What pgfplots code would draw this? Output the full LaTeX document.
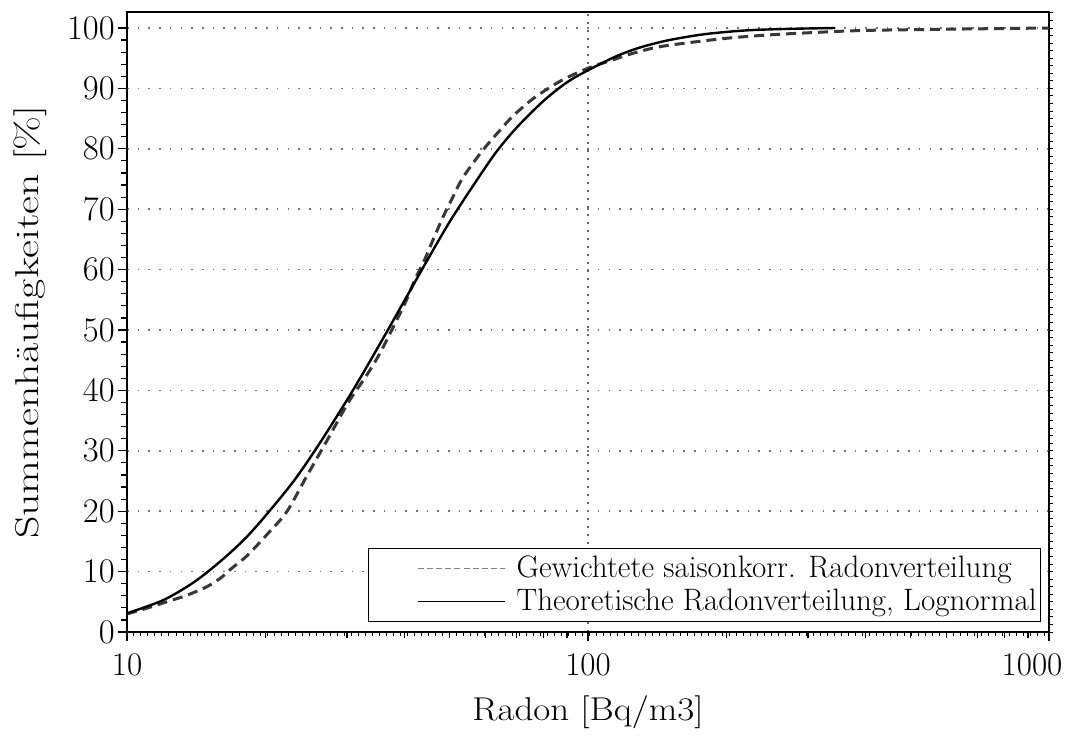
\documentclass[border=0pt]{standalone}
\usepackage{graphicx}
\usepackage{pgfplots}
\pgfplotsset{compat=1.18}
\usepackage{pgfplotstable}

\pgfplotstableread{
x y
10 3.0
11 3.9
12.2 5.0
13.5 6.1
14.9 7.5
16 9.0
16.9 10.6
18.2 12.6
20.1 16.1
22.2 19.9
24.5 25.7
27.2 31.8
30.2 38.0
33.1 42.5
35.4 46.2
38.5 51.7
40.4 55.0
42.1 58.3
44.2 61.6
46.1 64.9
48.4 68.6
50.9 72.0
53.6 75.3
58.9 79.6
64.3 83.0
68.7 85.4
76 88.3
85.7 90.9
93 92.3
102 93.6
113 94.7
125 95.8
143 96.9
175 97.8
206 98.4
252 98.9
318 99.3
400 99.6
600 99.8
1000 100
}\empirical

\pgfplotstableread{
x y
10 3.1
12 5.3
14 8.3
16 11.8
18 15.4
20 19.3
23 25.0
26 30.9
30 38.4
33 43.7
36.8 50
40 54.9
45 61.8
50 67.8
56 73.6
63 79.3
70 83.5
80 87.9
90 91.0
100 93.0
115 95.3
130 96.8
150 98.0
180 99.0
220 99.6
270 99.85
344 100
}\lognormal

\begin{document}
\begin{tikzpicture}
\begin{axis}[
  scale only axis,
  width=461pt, height=310pt,
  xmode=log,
  xmin=10, xmax=1000,
  ymin=0, ymax=102.65,
  xtick={10,100,1000},
  xticklabels={10,100,{\kern-17pt 1000}},
  minor xtick={20,30,40,50,60,70,80,90,200,300,400,500,600,700,800,900},
  ytick={0,10,...,100},
  minor y tick num=4,
  xtick pos=bottom, ytick pos=left,
  tick align=outside,
  major tick length=4.5pt,
  minor tick length=3pt,
  tick style={black, line width=0.6pt},
  axis line style={black, line width=0.8pt},
  xmajorgrids, ymajorgrids,
  major x grid style={black!60, line width=0.8pt, dash pattern=on 0.8pt off 3.2pt},
  major y grid style={black!55, line width=0.8pt, dash pattern=on 0.8pt off 4.55pt},
  tick label style={font=\fontsize{16.5}{19}\selectfont},
  yticklabel style={inner sep=1.5pt},
  xticklabel style={inner sep=6pt},
  xlabel={\scalebox{1.12}[1]{Radon [Bq/m3]}},
  ylabel={\scalebox{1.33}[1]{Summenhäufigkeiten [\%]}},
  label style={font=\fontsize{16.5}{19}\selectfont},
  xlabel style={at={(axis description cs:0.5,-0.129)}, anchor=center},
  ylabel style={at={(axis description cs:-0.105,0.5)}, anchor=center},
  legend cell align=left,
  legend style={at={(1,0)}, anchor=south east, xshift=-4pt, yshift=5pt,
    draw=black, line width=0.5pt, inner xsep=0pt, inner ysep=2pt,
    font=\fontsize{15.5}{16}\selectfont},
]
\addplot[color=black!78, line width=1.5pt, dash pattern=on 5pt off 3pt, smooth, tension=0.5,
  legend image code/.code={\path[draw=none,fill=none] (0pt,0pt) -- (72pt,0pt); \draw[solid, black!50, line width=0.6pt, dash pattern=on 3pt off 1.6pt] (24.5pt,0pt) -- (68pt,0pt);}]
  table[x=x,y=y] {\empirical};
\addlegendentry{Gewichtete saisonkorr. Radonverteilung}
\addplot[color=black, line width=1.2pt, smooth, tension=0.5,
  legend image code/.code={\path[draw=none,fill=none] (0pt,0pt) -- (72pt,0pt); \draw[solid, black, line width=0.6pt] (24.5pt,0pt) -- (68pt,0pt);}]
  table[x=x,y=y] {\lognormal};
\addlegendentry{Theoretische Radonverteilung, Lognormal}
\end{axis}
\begin{axis}[
  scale only axis,
  width=461pt, height=310pt,
  xmin=0, xmax=922, ymin=0, ymax=102.65,
  axis line style={draw=none},
  xtick={0,7,...,922}, ytick={0,1.25,...,102.6},
  xticklabels={}, yticklabels={},
  xtick pos=bottom, ytick pos=right,
  tick align=outside,
  major tick length=2pt,
  tick style={black, line width=0.5pt},
]
\end{axis}
\pgfresetboundingbox
\useasboundingbox ([shift={(-63.5pt,-54pt)}]current axis.south west) rectangle ([shift={(10pt,6pt)}]current axis.north east);
\end{tikzpicture}
\end{document}
